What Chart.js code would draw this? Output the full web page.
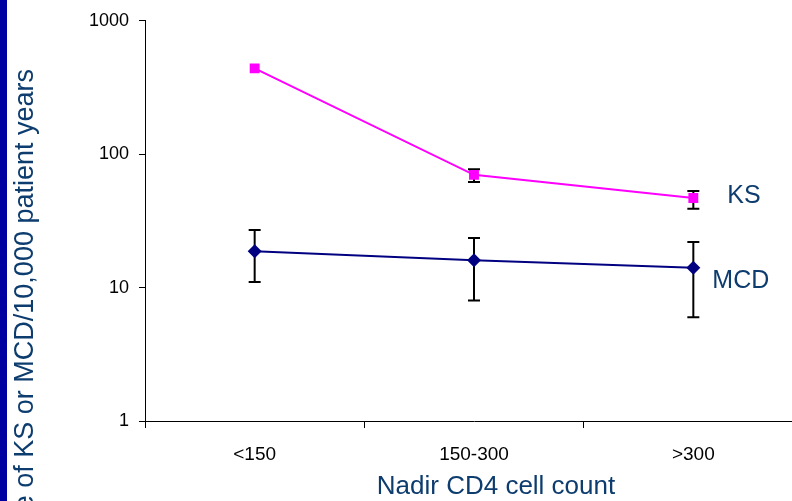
<!DOCTYPE html>
<html>
<head>
<meta charset="utf-8">
<title>KS and MCD incidence by nadir CD4</title>
<script src="https://cdn.jsdelivr.net/npm/chart.js@4.4.1/dist/chart.umd.min.js"></script>
<style>
  html, body { margin: 0; padding: 0; background: #fff; overflow: hidden; }
  body { width: 792px; height: 501px; position: relative; }
  #sideBar { position: absolute; left: 0; top: 0; width: 7px; height: 501px; background: #0000a0; }
  #wrap { position: absolute; left: 0; top: 0; width: 810px; height: 501px; }
</style>
</head>
<body>
<div id="wrap"><canvas id="incidenceChart"></canvas></div>
<div id="sideBar"></div>
<script>
// categories and tick values
const cd4Groups = ['<150', '150-300', '>300'];
const yTicks = [1, 10, 100, 1000];

// Kaposi sarcoma rate per 10,000 patient years, with error range
const ksRate = [440, 70, 47];
const ksLow = [null, 62, 39];
const ksHigh = [null, 77, 53];

// multicentric Castleman disease
const mcdRate = [18.7, 16, 14.1];
const mcdLow = [11, 8, 6];
const mcdHigh = [27, 23.5, 22];

const yTitle = 'Incidence of KS or MCD/10,000 patient years';
const xTitle = 'Nadir CD4 cell count';
const titleColor = '#0d3c6e';
const fontFamily = '"Liberation Sans", Arial, sans-serif';

// whiskers, drawn before the markers so the markers sit on top
const errorBars = {
    id: 'errorBars',
    beforeDatasetsDraw(chart) {
        const { ctx } = chart;
        const y = chart.scales.y;
        ctx.save();
        ctx.strokeStyle = '#000';
        ctx.lineWidth = 2;
        chart.data.datasets.forEach((ds, i) => {
            const meta = chart.getDatasetMeta(i);
            meta.data.forEach((pt, j) => {
                const lo = ds.errLow[j], hi = ds.errHigh[j];
                if (lo == null || hi == null) return;
                const yLo = y.getPixelForValue(lo);
                const yHi = y.getPixelForValue(hi);
                ctx.beginPath();
                ctx.moveTo(pt.x, yLo); ctx.lineTo(pt.x, yHi);
                ctx.moveTo(pt.x - 6, yLo); ctx.lineTo(pt.x + 6, yLo);
                ctx.moveTo(pt.x - 6, yHi); ctx.lineTo(pt.x + 6, yHi);
                ctx.stroke();
            });
        });
        ctx.restore();
    }
};

// axis titles and series names next to the last point
const textLabels = {
    id: 'textLabels',
    afterDraw(chart) {
        const { ctx } = chart;
        ctx.save();
        ctx.fillStyle = titleColor;

        // rotated y title, anchored at its end so the start runs off the bottom
        ctx.save();
        ctx.font = '27px ' + fontFamily;
        ctx.translate(33, 69);
        ctx.rotate(-Math.PI / 2);
        ctx.textAlign = 'right';
        ctx.textBaseline = 'alphabetic';
        ctx.fillText(yTitle, 0, 0);
        ctx.restore();

        ctx.font = '26px ' + fontFamily;
        ctx.textAlign = 'center';
        ctx.textBaseline = 'middle';
        ctx.fillText(xTitle, 496, 487);

        ctx.font = '25px ' + fontFamily;
        ctx.textAlign = 'left';
        chart.data.datasets.forEach((ds, i) => {
            const meta = chart.getDatasetMeta(i);
            const pt = meta.data[meta.data.length - 1];
            ctx.fillText(ds.label, pt.x + ds.labelOffset[0], pt.y + ds.labelOffset[1]);
        });
        ctx.restore();
    }
};

new Chart(document.getElementById('incidenceChart'), {
    type: 'line',
    data: {
        labels: cd4Groups,
        datasets: [
            {
                label: 'MCD',
                data: mcdRate,
                errLow: mcdLow,
                errHigh: mcdHigh,
                labelOffset: [19, 13],
                borderColor: '#000080',
                backgroundColor: '#000080',
                borderWidth: 2,
                pointStyle: 'rectRot',
                pointRadius: 7,
                pointBorderWidth: 0,
                tension: 0
            },
            {
                label: 'KS',
                data: ksRate,
                errLow: ksLow,
                errHigh: ksHigh,
                labelOffset: [34, -2],
                borderColor: '#ff00ff',
                backgroundColor: '#ff00ff',
                borderWidth: 2,
                pointStyle: 'rect',
                pointRadius: 7,
                pointBorderWidth: 0,
                tension: 0
            }
        ]
    },
    options: {
        responsive: true,
        maintainAspectRatio: false,
        animation: false,
        layout: { padding: 0 },
        plugins: {
            legend: { display: false },
            tooltip: { enabled: false }
        },
        scales: {
            x: {
                type: 'category',
                offset: true,
                grid: {
                    offset: true,
                    drawOnChartArea: false,
                    drawTicks: true,
                    tickLength: 7,
                    color: '#000'
                },
                border: { color: '#000', width: 1 },
                ticks: {
                    color: '#000',
                    font: { family: fontFamily, size: 19 },
                    padding: 15,
                    maxRotation: 0
                },
                afterFit(scale) { scale.height = 80; }
            },
            y: {
                type: 'logarithmic',
                min: 1,
                max: 1000,
                grid: {
                    drawOnChartArea: false,
                    drawTicks: true,
                    tickLength: 6,
                    color: '#000'
                },
                border: { color: '#000', width: 1 },
                ticks: {
                    color: '#000',
                    font: { family: fontFamily, size: 18 },
                    padding: 10,
                    callback: (v) => String(v)
                },
                afterBuildTicks(scale) {
                    scale.ticks = yTicks.map(v => ({ value: v }));
                },
                afterFit(scale) { scale.width = 145; }
            }
        }
    },
    plugins: [errorBars, textLabels]
});
</script>
</body>
</html>
